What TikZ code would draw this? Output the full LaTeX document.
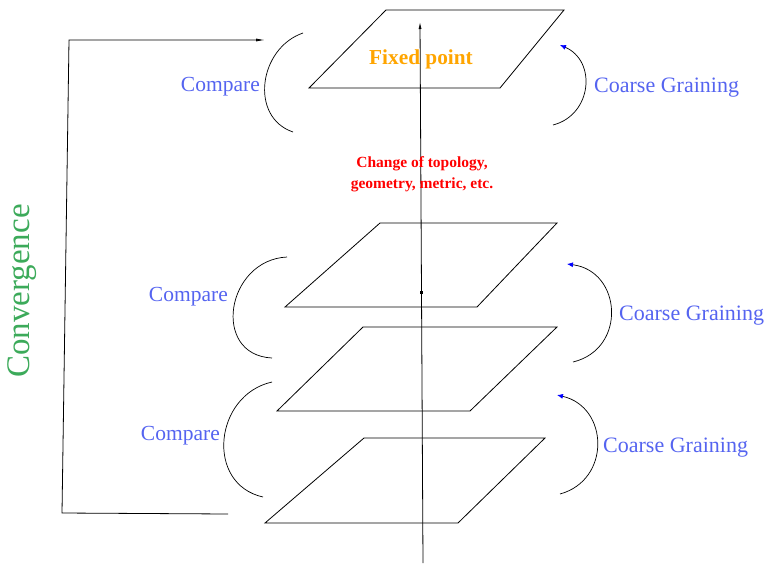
\documentclass[tikz,border=0pt]{standalone}
\usepackage{fontspec}
\setmainfont{Liberation Serif}
\usetikzlibrary{arrows.meta}
\definecolor{cmpblue}{RGB}{85,100,240}
\definecolor{fixorange}{RGB}{255,165,0}
\definecolor{convgreen}{RGB}{60,170,90}
\tikzset{
  plane/.style={draw=black, line width=0.8pt, line join=miter},
  arcline/.style={draw=black, line width=0.7pt},
  cgarrow/.style={arcline, -{Latex[length=6pt,width=5pt,color=blue]}},
  lbl/.style={text=cmpblue, font=\fontsize{21.5}{24}\selectfont, inner sep=0pt},
}
\begin{document}
\begin{tikzpicture}[x=1pt,y=-1pt]
\useasboundingbox (0,0) rectangle (766,563);
% planes
\draw[plane] (386,10) -- (564,10) -- (500,88) -- (309,88) -- cycle;
\draw[plane] (380,223) -- (557,223) -- (477,307) -- (285,307) -- cycle;
\draw[plane] (363,327) -- (557,327) -- (470,411) -- (277,411) -- cycle;
\draw[plane] (364,438) -- (545,438) -- (458,523) -- (265,523) -- cycle;
% vertical axis
\coordinate (axb) at (423,563);
\coordinate (axt) at (420,22);
\draw[line width=0.8pt, -{Latex[length=7pt,width=3pt]}] (axb) -- (axt);
\fill (420,290.5) rectangle (422.5,293.5);
% convergence bracket
\coordinate (ca) at (228,514);
\coordinate (cb) at (62,513);
\coordinate (cc) at (69,40);
\coordinate (cd) at (265,40);
\draw[line width=0.8pt, -{Latex[length=9pt,width=3pt]}] (ca) -- (cb) -- (cc) -- (cd);
\node[text=convgreen, rotate=90, font=\fontsize{33}{36}\selectfont, inner sep=0pt] (conv) at (22,291) {Convergence};
% compare arcs
\coordinate (l1t) at (303,33);  \coordinate (l1b) at (293,132);
\coordinate (l2t) at (287,257); \coordinate (l2b) at (272,358);
\coordinate (l3t) at (272,382); \coordinate (l3b) at (263,497);
\draw[arcline] (l1t) .. controls (259,48) and (249,117) .. (l1b);
\draw[arcline] (l2t) .. controls (226,260) and (211,355) .. (l2b);
\draw[arcline] (l3t) .. controls (214,395) and (205,484) .. (l3b);
\node[lbl, anchor=east] (cmp1) at (260,87) {Compare};
\node[lbl, anchor=east] (cmp2) at (228,297) {Compare};
\node[lbl, anchor=east] (cmp3) at (220,436) {Compare};
% coarse graining arcs
\coordinate (r1b) at (553,125); \coordinate (r1t) at (560,45);
\coordinate (r2b) at (573,362); \coordinate (r2t) at (567,264);
\coordinate (r3b) at (560,494); \coordinate (r3t) at (557,395);
\draw[cgarrow] (r1b) .. controls (592,115) and (597,61) .. (r1t);
\draw[cgarrow] (r2b) .. controls (627,349) and (622,271) .. (r2t);
\draw[cgarrow] (r3b) .. controls (611,480) and (609,407) .. (r3t);
\node[lbl, anchor=west, font=\fontsize{22}{24}\selectfont] (cg1) at (594,88) {Coarse Graining};
\node[lbl, anchor=west, font=\fontsize{22}{24}\selectfont] (cg2) at (619,316) {Coarse Graining};
\node[lbl, anchor=west, font=\fontsize{22}{24}\selectfont] (cg3) at (603,448) {Coarse Graining};
% texts
\node[text=fixorange, font=\bfseries\fontsize{21.3}{24}\selectfont, inner sep=0pt] (fix) at (421,59) {Fixed point};
\node[text=red, font=\bfseries\fontsize{15.5}{20.5}\selectfont, align=center, inner sep=0pt] (chg) at (422,174) {Change of topology,\\geometry, metric, etc.};
\end{tikzpicture}
\end{document}
